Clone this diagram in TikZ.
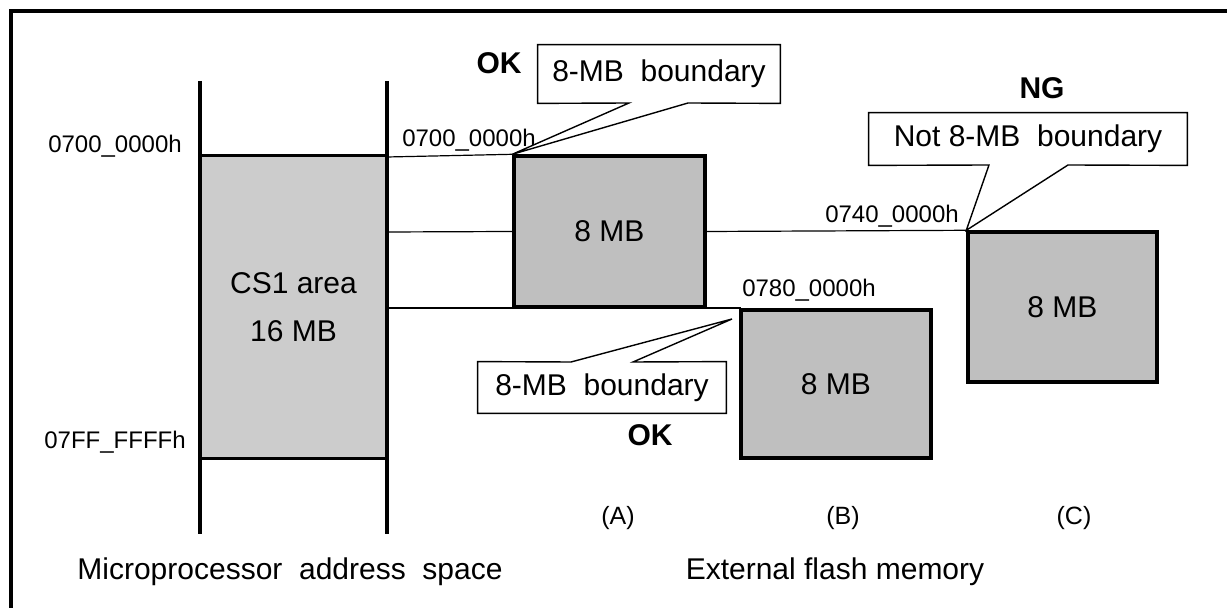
\documentclass[tikz,border=0pt]{standalone}
\usepackage{fontspec}
\setmainfont{Liberation Sans}
\begin{document}
\begin{tikzpicture}[x=0.5pt,y=-0.5pt,
  big/.style={font=\fontsize{15}{18}\selectfont},
  small/.style={font=\fontsize{12}{14}\selectfont},
  verdict/.style={font=\fontsize{15}{18}\selectfont\bfseries},
  mem/.style={draw=black,line width=1.7pt,fill=black!25,minimum width=#1,inner sep=0pt,font=\fontsize{15}{18}\selectfont},
  thin/.style={line width=0.6pt},
  axis/.style={line width=1.8pt},
  callout/.style={draw=black,line width=0.7pt,fill=white}]
\useasboundingbox (0,0) rectangle (1227,608);
% frame
\draw[line width=1.8pt] (11,608) -- (11,11) -- (1227,11);
% CS1 area
\node[fill=black!20,minimum width=93.5pt,minimum height=151pt,inner sep=0pt,big,align=center] (cs1) at (293.5,307) {CS1 area\\[6pt]16 MB};
\draw[line width=1.7pt] (cs1.north west) -- (cs1.north east);
\draw[line width=1.7pt] (cs1.south west) -- (cs1.south east);
\coordinate (lt) at (200,81);
\coordinate (lb) at (200,534);
\coordinate (rt) at (387,81);
\coordinate (rb) at (387,534);
\draw[axis] (lt) -- (lb);
\draw[axis] (rt) -- (rb);
% memory blocks
\node[mem=95.5pt,minimum height=75.5pt] (A) at (609.5,231.5) {8 MB};
\node[mem=95pt,minimum height=74pt] (B) at (836,384) {8 MB};
\node[mem=94.5pt,minimum height=75pt] (C) at (1062.5,307) {8 MB};
% connecting lines
\coordinate (r1) at (387,157);
\coordinate (r2) at (387,232);
\coordinate (r3) at (387,308);
\coordinate (b3) at (741,308);
\draw[thin] (r1) -- (A.north west);
\draw[thin] (r2) -- (A.west);
\draw[thin] (A.east) -- (C.north west);
\draw[thin] (r3) -- (b3);
% address labels
\node[small] (l1) at (115,146) {0700\_0000h};
\node[small] (l2) at (115,442) {07FF\_FFFFh};
\node[small] (la) at (469,140) {0700\_0000h};
\node[small] (lb2) at (809,290) {0780\_0000h};
\node[small] (lc) at (892,216) {0740\_0000h};
% callout A
\node[minimum width=121pt,minimum height=29pt,inner sep=0pt] (ca) at (659,74) {};
\draw[callout] (ca.north west) -- (ca.north east) -- (ca.south east) -- (688,103) -- (A.north west) -- (629,103) -- (ca.south west) -- cycle;
\node[big] (ta1) at (ca) {8-MB\ \ boundary};
% callout B
\coordinate (tb) at (732,319);
\node[minimum width=124pt,minimum height=25.5pt,inner sep=0pt] (cb) at (602,387.5) {};
\draw[callout] (cb.north west) -- (571,362) -- (tb) -- (633,362) -- (cb.north east) -- (cb.south east) -- (cb.south west) -- cycle;
\node[big] (tb1) at (cb) {8-MB\ \ boundary};
% callout C
\node[minimum width=159pt,minimum height=26pt,inner sep=0pt] (cc) at (1028,139) {};
\draw[callout] (cc.north west) -- (cc.north east) -- (cc.south east) -- (1068,165) -- (C.north west) -- (989,165) -- (cc.south west) -- cycle;
\node[big] (tc1) at (cc) {Not 8-MB\ \ boundary};
% verdicts
\node[verdict] (okA) at (499,63) {OK};
\node[verdict] (ng) at (1042,88) {NG};
\node[verdict] (okB) at (650,435) {OK};
% case labels
\node[font=\fontsize{12.5}{15}\selectfont] (ta) at (618,518) {(A)};
\node[font=\fontsize{12.5}{15}\selectfont] (tb2) at (843,518) {(B)};
\node[font=\fontsize{12.5}{15}\selectfont] (tc) at (1074,518) {(C)};
% captions
\node[big] (cap1) at (290,572) {Microprocessor\ \ address\ \ space};
\node[big] (cap2) at (835,572) {External flash memory};
\end{tikzpicture}
\end{document}
